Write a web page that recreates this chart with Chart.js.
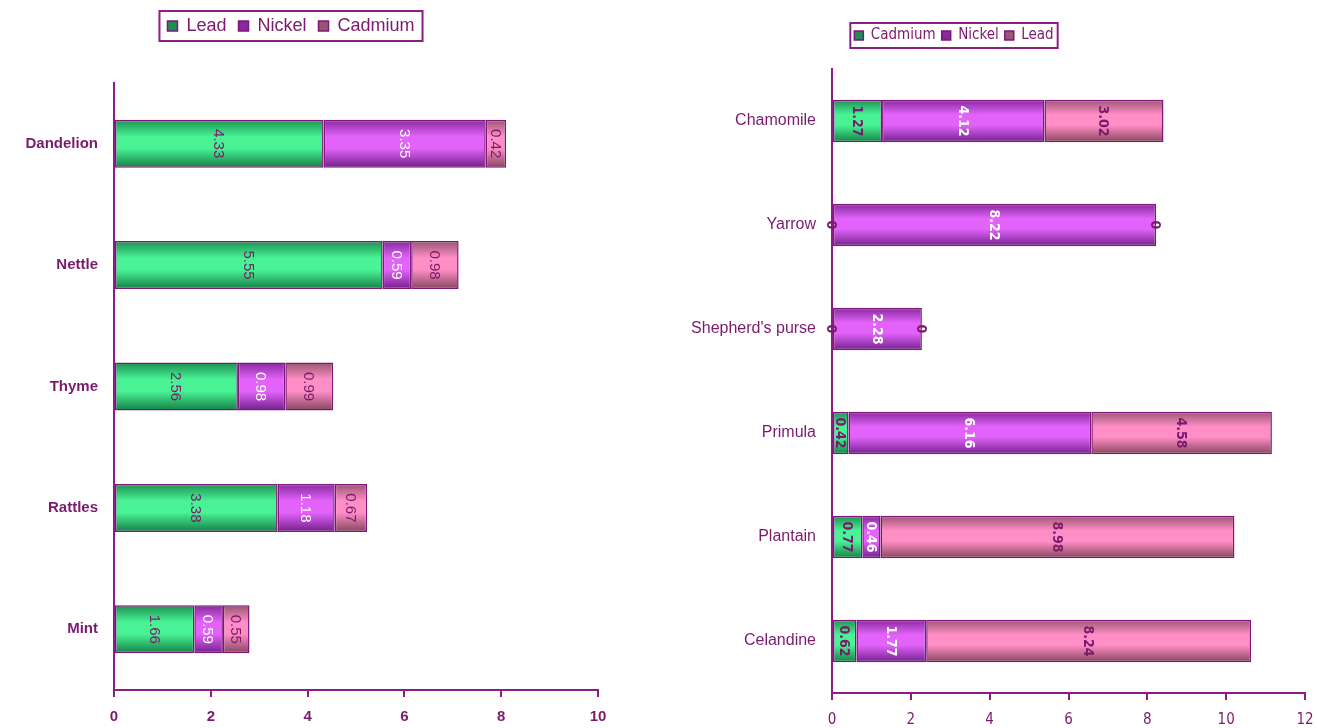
<!DOCTYPE html>
<html>
<head>
<meta charset="utf-8">
<script src="https://cdn.jsdelivr.net/npm/chart.js@4.4.1/dist/chart.umd.min.js"></script>
<style>
html, body { margin: 0; padding: 0; background: #fff; }
body { width: 1317px; height: 728px; position: relative; overflow: hidden; }
.panel { position: absolute; top: 0; height: 728px; }
#left { left: 0; width: 640px; }
#right { left: 640px; width: 677px; }
</style>
</head>
<body>
<div class="panel" id="left"><canvas id="leftChart"></canvas></div>
<div class="panel" id="right"><canvas id="rightChart"></canvas></div>
<script>
// left panel
const leftPlants = ['Dandelion', 'Nettle', 'Thyme', 'Rattles', 'Mint'];
const leftLead = [4.33, 5.55, 2.56, 3.38, 1.66];
const leftNickel = [3.35, 0.59, 0.98, 1.18, 0.59];
const leftCadmium = [0.42, 0.98, 0.99, 0.67, 0.55];
const leftTicks = [0, 2, 4, 6, 8, 10];

// right panel
const rightPlants = ['Chamomile', 'Yarrow', "Shepherd's purse", 'Primula', 'Plantain', 'Celandine'];
const rightCadmium = [1.27, 0, 0, 0.42, 0.77, 0.62];
const rightNickel = [4.12, 8.22, 2.28, 6.16, 0.46, 1.77];
const rightLead = [3.02, 0, 0, 4.58, 8.98, 8.24];
const rightTicks = [0, 2, 4, 6, 8, 10, 12];

const INK = '#7a1a6c';
const AXIS = '#8e1c86';
const EDGE = '#80157a';
const GREEN = ['#1c9052', '#48f295', '#158046'];
const PURPLE = ['#862a9c', '#e262fa', '#70208a'];
const PINK = ['#985670', '#ff8dc6', '#84465c'];

// cylinder-like shading across each bar
function shade(colors, barPct) {
    return function (ctx) {
        const chart = ctx.chart;
        if (ctx.type !== 'data' || !chart.chartArea) return colors[1];
        const y = chart.scales.y;
        const c = y.getPixelForValue(ctx.dataIndex);
        const h = y.height / chart.data.labels.length * barPct;
        const g = chart.ctx.createLinearGradient(0, c - h / 2, 0, c + h / 2);
        g.addColorStop(0, colors[0]);
        g.addColorStop(0.35, colors[1]);
        g.addColorStop(0.6, colors[1]);
        g.addColorStop(1, colors[2]);
        return g;
    };
}

function series(label, data, colors, textColor, barPct) {
    return {
        label: label,
        data: data,
        backgroundColor: shade(colors, barPct),
        borderColor: EDGE,
        borderWidth: 1.5,
        borderSkipped: false,
        barPercentage: barPct,
        categoryPercentage: 1,
        labelColor: textColor
    };
}

const barValues = {
    id: 'barValues',
    afterDatasetsDraw(chart, args, opts) {
        const ctx = chart.ctx;
        chart.data.datasets.forEach((ds, i) => {
            chart.getDatasetMeta(i).data.forEach((bar, j) => {
                ctx.save();
                ctx.translate((bar.x + bar.base) / 2, bar.y);
                ctx.rotate(Math.PI / 2);
                ctx.font = opts.font;
                ctx.fillStyle = ds.labelColor;
                ctx.textAlign = 'center';
                ctx.textBaseline = 'middle';
                ctx.fillText(String(ds.data[j]), 0, 1);
                ctx.restore();
            });
        });
    }
};

// move the legend and frame it
const legendFrame = {
    id: 'legendFrame',
    afterLayout(chart, args, opts) {
        const lg = chart.legend;
        const d = opts.centerX - (lg.left + lg.right) / 2;
        lg.left += d;
        lg.right += d;
        lg.top += opts.dy;
        lg.bottom += opts.dy;
    },
    afterDraw(chart, args, opts) {
        const boxes = chart.legend.legendHitBoxes;
        if (!boxes || !boxes.length) return;
        const l = Math.min(...boxes.map(b => b.left)) - opts.padX;
        const r = Math.max(...boxes.map(b => b.left + b.width)) + opts.padX;
        const t = Math.min(...boxes.map(b => b.top)) - opts.padY;
        const btm = Math.max(...boxes.map(b => b.top + b.height)) + opts.padY;
        const ctx = chart.ctx;
        ctx.save();
        ctx.strokeStyle = AXIS;
        ctx.lineWidth = 2;
        ctx.strokeRect(l, t, r - l, btm - t);
        ctx.restore();
    }
};

function buildChart(id, plants, datasets, ticks, cfg) {
    return new Chart(document.getElementById(id), {
        type: 'bar',
        data: { labels: plants, datasets: datasets },
        plugins: [barValues, legendFrame],
        options: {
            indexAxis: 'y',
            responsive: true,
            maintainAspectRatio: false,
            animation: false,
            layout: { padding: cfg.padding },
            scales: {
                x: {
                    stacked: true,
                    min: ticks[0],
                    max: ticks[ticks.length - 1],
                    grid: { drawOnChartArea: false, color: AXIS, lineWidth: 2, tickLength: 7 },
                    border: { color: AXIS, width: 2 },
                    ticks: { stepSize: ticks[1] - ticks[0], color: INK, font: cfg.tickFont, padding: cfg.tickPad },
                    afterFit(scale) {
                        scale.height = cfg.xHeight;
                        scale.paddingRight = 0;
                    }
                },
                y: {
                    stacked: true,
                    grid: { drawOnChartArea: false, drawTicks: false },
                    border: { color: AXIS, width: 2 },
                    ticks: { color: INK, font: cfg.catFont, padding: 16 },
                    afterFit(scale) { scale.width = cfg.yWidth; }
                }
            },
            plugins: {
                legend: {
                    position: 'top',
                    labels: {
                        color: INK,
                        font: cfg.legendFont,
                        boxWidth: cfg.box,
                        boxHeight: cfg.box,
                        padding: cfg.legendGap
                    }
                },
                tooltip: { enabled: false },
                barValues: { font: cfg.valueFont },
                legendFrame: cfg.frame
            }
        }
    });
}

const leftPct = 0.395;
buildChart('leftChart', leftPlants, [
    series('Lead', leftLead, GREEN, INK, leftPct),
    series('Nickel', leftNickel, PURPLE, '#ffffff', leftPct),
    series('Cadmium', leftCadmium, PINK, INK, leftPct)
], leftTicks, {
    padding: { top: 43, left: 10, right: 42, bottom: 0 },
    xHeight: 38,
    yWidth: 104,
    tickPad: 11,
    box: 10,
    tickFont: { family: 'Liberation Sans, Arial', size: 15, weight: 'bold' },
    catFont: { family: 'Liberation Sans, Arial', size: 15, weight: 'bold' },
    legendFont: { family: 'Liberation Sans, Arial', size: 18 },
    legendGap: 12,
    valueFont: '15px "Liberation Sans", Arial',
    frame: { centerX: 291, dy: -38, padX: 8, padY: 6 }
});

const rightPct = 0.41;
buildChart('rightChart', rightPlants, [
    series('Cadmium', rightCadmium, GREEN, INK, rightPct),
    series('Nickel', rightNickel, PURPLE, '#ffffff', rightPct),
    series('Lead', rightLead, PINK, INK, rightPct)
], rightTicks, {
    padding: { top: 38, left: 0, right: 12, bottom: 0 },
    xHeight: 35,
    yWidth: 192,
    tickPad: 11,
    box: 9,
    tickFont: { family: 'Liberation Sans Narrow, DejaVu Sans Condensed, Liberation Sans', size: 15 },
    catFont: { family: 'Liberation Sans, Arial', size: 16 },
    legendFont: { family: 'Liberation Sans Narrow, DejaVu Sans Condensed, Liberation Sans', size: 15 },
    legendGap: 6,
    valueFont: 'bold 14px "Liberation Sans Narrow", "DejaVu Sans Condensed", "Liberation Sans"',
    frame: { centerX: 314, dy: -16, padX: 4, padY: 5 }
});
</script>
</body>
</html>
